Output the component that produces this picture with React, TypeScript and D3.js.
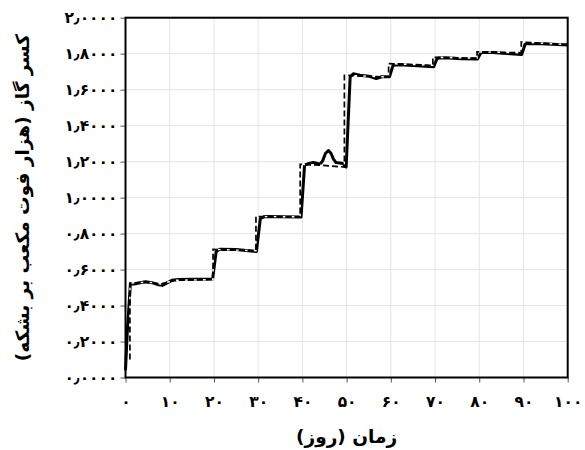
import React, { useEffect, useRef } from 'react';
import * as d3 from 'd3';

// gas ratio vs time, solid = simulated, dashed = history

const solidTime = [0, 0.4, 1.1, 2, 3, 4.5, 6, 7.5, 8.3, 9.3, 10.5, 12, 15, 19.7, 20.5, 21.3, 25, 29.6, 30.5, 31.5, 35, 39.7, 40.5, 41.5, 42.5, 44, 44.6, 45.2, 45.9, 46.5, 47, 47.6, 49.2, 49.9, 50.8, 51.5, 53, 55, 56.7, 58, 59.7, 60.5, 62, 66, 69.7, 70.5, 72, 76, 79.6, 80.4, 83, 87, 89.6, 90.4, 93, 100];
const solidValue = [0.04, 0.25, 0.52, 0.52, 0.525, 0.532, 0.527, 0.515, 0.512, 0.525, 0.54, 0.545, 0.546, 0.547, 0.7, 0.713, 0.712, 0.7, 0.885, 0.895, 0.893, 0.892, 1.18, 1.19, 1.195, 1.185, 1.205, 1.245, 1.262, 1.245, 1.215, 1.195, 1.19, 1.17, 1.67, 1.688, 1.68, 1.675, 1.662, 1.672, 1.672, 1.735, 1.738, 1.733, 1.728, 1.775, 1.778, 1.772, 1.77, 1.806, 1.807, 1.8, 1.795, 1.855, 1.856, 1.848];

const dashTime = [1, 1, 5, 8, 11, 19.8, 19.8, 29.5, 29.5, 39.5, 39.5, 44, 49.5, 49.5, 59.5, 59.5, 69.5, 69.5, 79.5, 79.5, 89.5, 89.5, 100];
const dashValue = [0.1, 0.525, 0.53, 0.52, 0.54, 0.545, 0.712, 0.705, 0.895, 0.893, 1.185, 1.18, 1.17, 1.68, 1.67, 1.745, 1.735, 1.78, 1.775, 1.81, 1.805, 1.865, 1.85];

const xTicks = [0, 10, 20, 30, 40, 50, 60, 70, 80, 90, 100];
const yTicks = [0, 0.2, 0.4, 0.6, 0.8, 1.0, 1.2, 1.4, 1.6, 1.8, 2.0];

const xTitle = 'زمان (روز)';
const yTitle = 'کسر گاز (هزار فوت مکعب بر بشکه)';

const faDigits = '۰۱۲۳۴۵۶۷۸۹';
const toFa = (s: string) => s.replace(/[0-9]/g, (c) => faDigits[+c]).replace('.', '٫');

const FONT = '"DejaVu Sans", sans-serif';

export default function App() {
  const ref = useRef<SVGSVGElement>(null);

  useEffect(() => {
    const margin = { top: 17.7, right: 17.3, bottom: 72.5, left: 125.5 };
    const W = 585, H = 450;
    const w = W - margin.left - margin.right;
    const h = H - margin.top - margin.bottom;

    const svg = d3.select(ref.current);
    svg.selectAll('*').remove();
    const g = svg.append('g').attr('transform', `translate(${margin.left}, ${margin.top})`);

    const x = d3.scaleLinear().domain([0, 100]).range([0, w]);
    const y = d3.scaleLinear().domain([0, 2]).range([h, 0]);

    // grid
    g.selectAll('.vgrid').data(xTicks).join('line').attr('class', 'vgrid')
      .attr('x1', (d) => x(d)).attr('x2', (d) => x(d)).attr('y1', 0).attr('y2', h)
      .attr('stroke', '#e4e4e4').attr('stroke-width', 1);
    g.selectAll('.hgrid').data(yTicks).join('line').attr('class', 'hgrid')
      .attr('x1', 0).attr('x2', w).attr('y1', (d) => y(d)).attr('y2', (d) => y(d))
      .attr('stroke', '#e4e4e4').attr('stroke-width', 1);

    // axes
    const xAxis = g.append('g').attr('transform', `translate(0, ${h})`)
      .call(d3.axisBottom(x).tickValues(xTicks).tickSize(5).tickPadding(13).tickFormat((d) => toFa(String(d))));
    const yAxis = g.append('g')
      .call(d3.axisLeft(y).tickValues(yTicks).tickSize(5).tickPadding(3).tickFormat((d) => toFa((+d).toFixed(4))));
    [xAxis, yAxis].forEach((a) => {
      a.select('.domain').remove();
      a.selectAll('line').attr('stroke', '#555').attr('stroke-width', 1);
      a.selectAll('text').attr('font-family', FONT).attr('font-weight', 'bold')
        .attr('font-size', 15.5).attr('fill', '#000');
    });

    // series
    const solid = solidTime.map((t, i) => [t, solidValue[i]] as [number, number]);
    const dashed = dashTime.map((t, i) => [t, dashValue[i]] as [number, number]);
    const line = d3.line<[number, number]>().x((d) => x(d[0])).y((d) => y(d[1]));

    g.append('path').datum(solid).attr('d', line).attr('fill', 'none')
      .attr('stroke', '#000').attr('stroke-width', 3).attr('stroke-linejoin', 'round');
    g.append('path').datum(dashed).attr('d', line).attr('fill', 'none')
      .attr('stroke', '#fff').attr('stroke-width', 1.4).attr('stroke-dasharray', '3,6')
      .attr('stroke-dashoffset', 3);
    g.append('path').datum(dashed).attr('d', line).attr('fill', 'none')
      .attr('stroke', '#000').attr('stroke-width', 1.7).attr('stroke-dasharray', '6,3');

    // frame
    g.append('rect').attr('x', 0).attr('y', 0).attr('width', w).attr('height', h)
      .attr('fill', 'none').attr('stroke', '#000').attr('stroke-width', 2);

    // titles
    svg.append('text')
      .attr('x', margin.left + w / 2).attr('y', 443)
      .attr('text-anchor', 'middle').attr('direction', 'rtl')
      .attr('font-family', FONT).attr('font-weight', 'bold').attr('font-size', 18.5)
      .text(xTitle);
    svg.append('text')
      .attr('transform', `translate(29, ${margin.top + h / 2}) rotate(-90)`)
      .attr('text-anchor', 'middle').attr('direction', 'rtl')
      .attr('font-family', FONT).attr('font-weight', 'bold').attr('font-size', 18.5)
      .text(yTitle);
  }, []);

  return (
    <svg ref={ref} width={585} height={450}
      style={{ position: 'absolute', left: 0, top: 0, background: '#fff' }} />
  );
}
